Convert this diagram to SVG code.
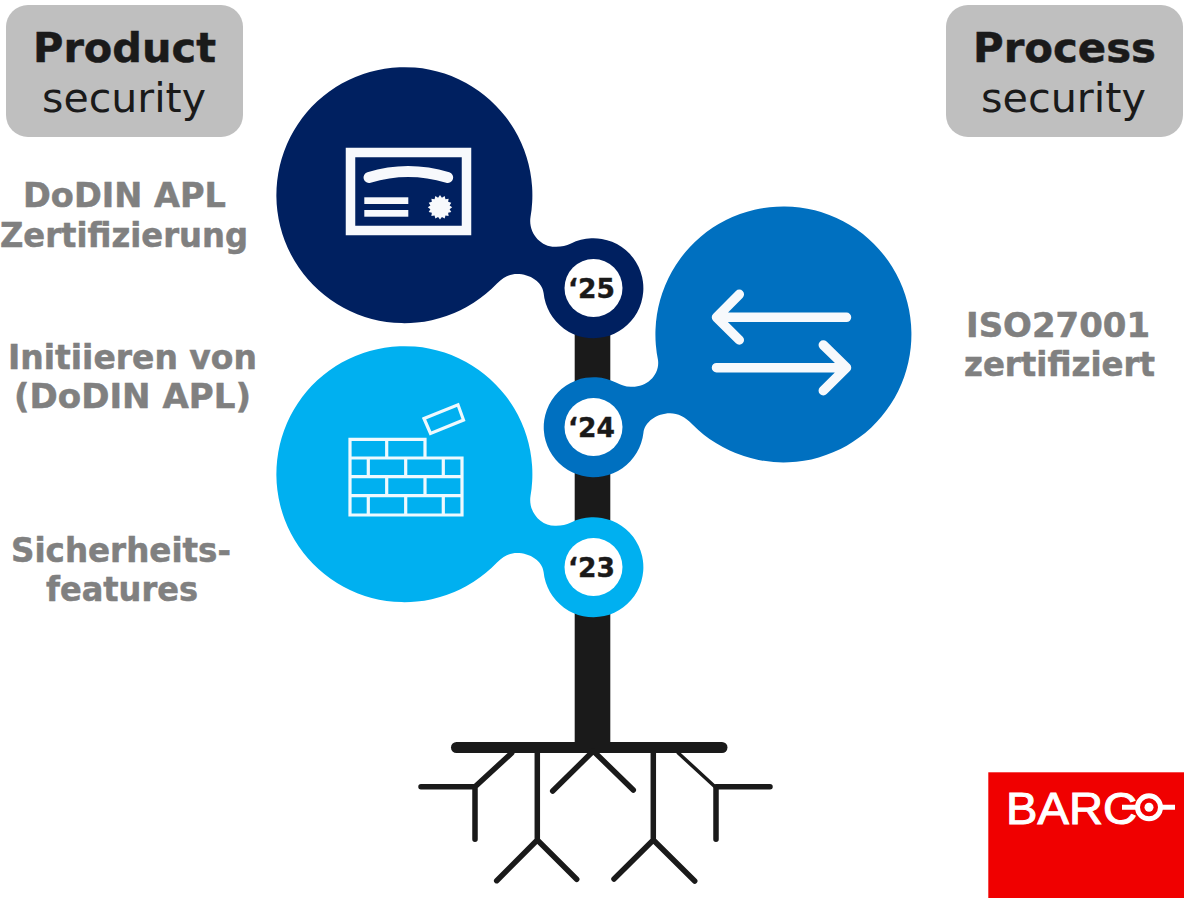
<svg xmlns="http://www.w3.org/2000/svg" width="1184" height="898" viewBox="0 0 1184 898">
<style>
text{font-family:"DejaVu Sans","Verdana",sans-serif}
.hd{font-size:41.500px;fill:#1a1a1a;text-anchor:middle}
.b{font-weight:700;stroke:#1a1a1a;stroke-width:.5px}
.lb{font-size:33px;font-weight:700;fill:#808080;stroke:#808080;stroke-width:.5px;text-anchor:middle}
.yr{font-size:27px;font-weight:700;fill:#1a1a1a;stroke:#1a1a1a;stroke-width:.4px;text-anchor:middle}
.box{fill:#bfbfbf}
.root{fill:none;stroke:#1a1a1a;stroke-width:5.500;stroke-linecap:round;stroke-linejoin:round}
.w{fill:none;stroke:#f7f9fc;stroke-linecap:round;stroke-linejoin:round}
.brick{fill:none;stroke:#eef9fe;stroke-width:3.200}
</style>
<rect width="1184" height="898" fill="#fff"/>
<g id="trunk">
<rect x="574.700" y="320" width="35.600" height="428" fill="#1a1a1a"/>
<rect x="451" y="742" width="276.500" height="11" rx="5.500" fill="#1a1a1a"/>
</g>
<g id="roots" class="root">
<path d="M511.700 753L475 786.700M421 786.700H475V839.300"/>
<path d="M537.300 753V840M496.700 880.700L537.300 840L576.700 879.300"/>
<path d="M552.700 791L593.300 751L633.300 790"/>
<path d="M653.300 753V840M614 879L653.300 840L694.700 881"/>
<path d="M678.300 753L715 786.700" style="stroke-width:3.500"/>
<path d="M770 786.700H716V839.300"/>
</g>
<g id="box-product"><rect class="box" x="6" y="5" width="237" height="132" rx="22"/>
<text class="hd b" x="124.500" y="62" textLength="183" lengthAdjust="spacingAndGlyphs">Product</text><text class="hd" x="124" y="112" textLength="164" lengthAdjust="spacingAndGlyphs">security</text></g>
<g id="box-process"><rect class="box" x="946" y="5" width="237" height="132" rx="22"/>
<text class="hd b" x="1064.500" y="62" textLength="183" lengthAdjust="spacingAndGlyphs">Process</text><text class="hd" x="1063.500" y="112" textLength="165" lengthAdjust="spacingAndGlyphs">security</text></g>
<g id="label-dodin"><text class="lb" x="124.500" y="207" textLength="203" lengthAdjust="spacingAndGlyphs">DoDIN APL</text><text class="lb" x="124" y="247" textLength="248" lengthAdjust="spacingAndGlyphs">Zertifizierung</text></g>
<g id="label-init"><text class="lb" x="132.500" y="369" textLength="249" lengthAdjust="spacingAndGlyphs">Initiieren von</text><text class="lb" x="132.500" y="408" textLength="237" lengthAdjust="spacingAndGlyphs">(DoDIN APL)</text></g>
<g id="label-sich"><text class="lb" x="121" y="562" textLength="220" lengthAdjust="spacingAndGlyphs">Sicherheits-</text><text class="lb" x="122" y="601" textLength="152" lengthAdjust="spacingAndGlyphs">features</text></g>
<g id="label-iso"><text class="lb" x="1058" y="337" textLength="184" lengthAdjust="spacingAndGlyphs">ISO27001</text><text class="lb" x="1059.500" y="376" textLength="191" lengthAdjust="spacingAndGlyphs">zertifiziert</text></g>
<g id="node-25">
<path fill="#002060" d="M530.500 217C528 233 541 247.500 556 246.800C562 246.500 566 246 571 243.500A50 50 0 1 1 543.600 293C542.600 282 530 274 517 274C510 274 504 276.500 497 283.500A128 128 0 1 1 530.500 217Z"/>
<circle cx="593.500" cy="288" r="29" fill="#fff"/>
<text class="yr" x="591.500" y="298" textLength="47" lengthAdjust="spacingAndGlyphs">‘25</text>
<rect x="350.500" y="152.500" width="116" height="78" fill="none" stroke="#f7f9fc" stroke-width="9.500"/>
<path class="w" style="stroke-width:11" d="M369 177.500Q408 165.500 447.700 177.500"/>
<rect x="364.300" y="197.300" width="44" height="6.700" fill="#f7f9fc"/>
<rect x="364.300" y="210" width="44" height="6.700" fill="#f7f9fc"/>
<polygon transform="translate(440 207.300)" fill="#f7f9fc" points="12.200,0 9.610,1.910 11.270,4.670 8.140,5.450 8.630,8.630 5.450,8.140 4.670,11.270 1.910,9.610 0,12.200 -1.910,9.610 -4.670,11.270 -5.450,8.140 -8.630,8.630 -8.140,5.450 -11.270,4.670 -9.610,1.910 -12.200,0 -9.610,-1.910 -11.270,-4.670 -8.140,-5.450 -8.630,-8.630 -5.450,-8.140 -4.670,-11.270 -1.910,-9.610 0,-12.200 1.910,-9.610 4.670,-11.270 5.450,-8.140 8.630,-8.630 8.140,-5.450 11.270,-4.670 9.610,-1.910"/>
</g>
<g id="node-24">
<path fill="#0070c0" d="M658 360C660 375 647 387.500 631 386.800C625 386.500 621 385 616.500 382.700A50 50 0 1 0 643.400 433C644.400 422 657 413.300 670 413.300C678 413.300 685 417 692.500 424.500A128 128 0 1 0 658 360Z"/>
<circle cx="593.500" cy="427" r="29" fill="#fff"/>
<text class="yr" x="591.500" y="437" textLength="47" lengthAdjust="spacingAndGlyphs">‘24</text>
<path class="w" style="stroke-width:9.500" d="M846.500 317.300H716.500M739.300 294.300L716.500 317.300L739.300 340M716.500 367.700H846.500M823.300 345L846.500 367.700L823.300 390.700"/>
</g>
<g id="node-23">
<path fill="#00b0f0" d="M530.500 496C528 512 541 526.500 556 525.800C562 525.500 566 525 571 522.500A50 50 0 1 1 543.600 572C542.600 561 530 553 517 553C510 553 504 555.500 497 562.500A128 128 0 1 1 530.500 496Z"/>
<circle cx="593.500" cy="567" r="29" fill="#fff"/>
<text class="yr" x="591.500" y="577" textLength="47" lengthAdjust="spacingAndGlyphs">‘23</text>
<path class="brick" d="M425 458V439.300H350V515H462V458H350M350 476.700H462M350 495.700H462M386.700 439.300V458M368.300 458V476.700M405.700 458V476.700M443.300 458V476.700M386.700 476.700V495.700M425 476.700V495.700M368.300 495.700V515M405.700 495.700V515M443.300 495.700V515"/>
<path class="brick" d="M424 418.500L458 404.800L463.500 420L430.500 433.500Z"/>
</g>
<g id="logo">
<rect x="988.300" y="772.300" width="195.700" height="125.700" fill="#f00000"/>
<text x="1006" y="824" font-size="44" textLength="131" lengthAdjust="spacingAndGlyphs" style="font-family:'Liberation Sans',sans-serif;font-weight:400;stroke:#fff;stroke-width:1px" fill="#fff">BARC</text>
<path d="M1122 807.300H1137M1160 807.300H1175" stroke="#fff" stroke-width="5" fill="none"/>
<circle cx="1149" cy="807.300" r="11.500" fill="none" stroke="#fff" stroke-width="5"/>
<circle cx="1149" cy="807.300" r="4.500" fill="#fff"/>
</g>
</svg>
